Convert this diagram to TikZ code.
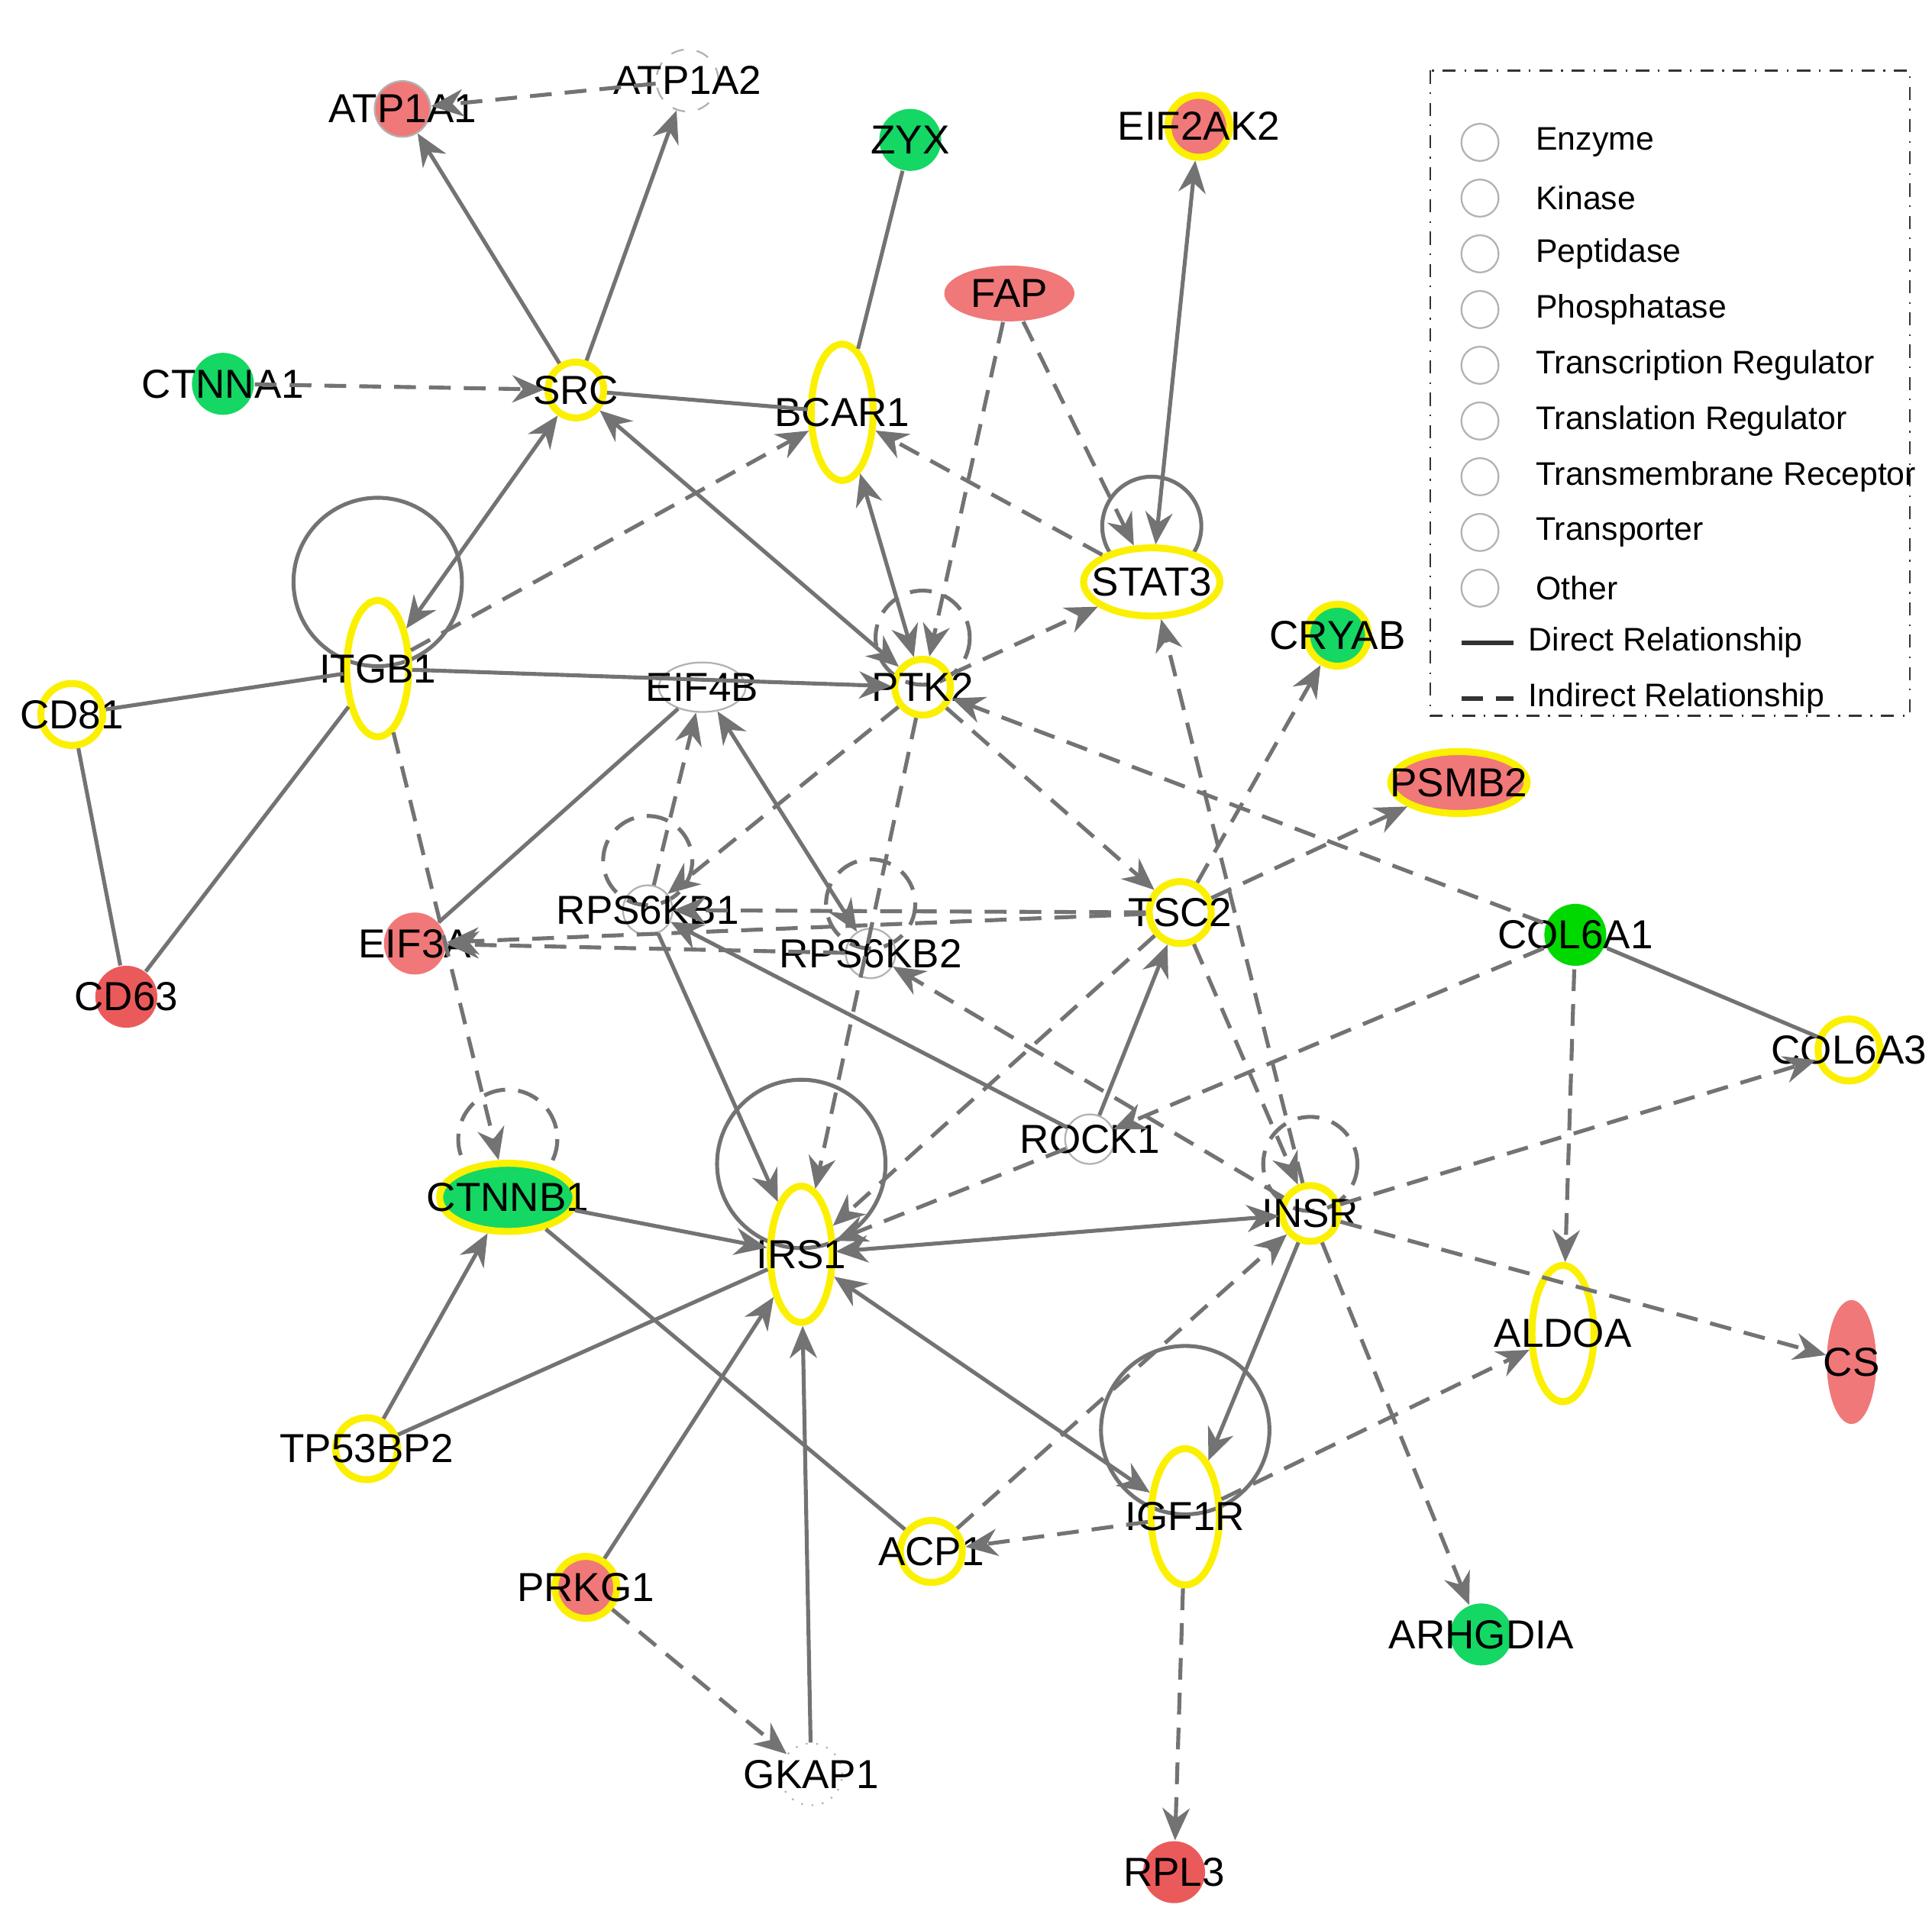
\documentclass[tikz,border=0pt]{standalone}
\usepackage{fontspec}
\setmainfont{Liberation Sans}
\usetikzlibrary{arrows.meta,shapes.geometric}
\definecolor{upred}{RGB}{240,120,120}
\definecolor{dnred}{RGB}{235,90,90}
\definecolor{dngreen}{RGB}{20,215,100}
\definecolor{ipayel}{RGB}{250,240,0}
\begin{document}
\begin{tikzpicture}[x=0.01cm,y=-0.01cm,font=\fontsize{9.3}{11}\selectfont,
  mol/.style={circle, minimum size=0.5cm, inner sep=0pt, draw=gray!60, line width=0.4pt},
  hi/.style={draw=ipayel, line width=1.6pt},
  dir/.style={gray!90!black, line width=0.9pt, -{Stealth[length=2.6mm,width=2.2mm]}},
  ind/.style={dir, dash pattern=on 5pt off 3pt},
  both/.style={{Stealth[length=2.6mm,width=2.2mm]}-{Stealth[length=2.6mm,width=2.2mm]}},
  nil/.style={-},
  loop/.style={gray!90!black, line width=0.9pt},
  legtxt/.style={anchor=west, inner sep=1pt, font=\fontsize{7.5}{9}\selectfont}]
\useasboundingbox (0,0) rectangle (1560,1543);
% self loops
\draw[loop] (305,470) circle (68);
\draw[loop] (647,940) circle (68);
\draw[loop] (957,1155) circle (68);
\draw[loop] (930,425) circle (40);
\draw[loop,dash pattern=on 5pt off 3pt] (410,920) circle (40);
\draw[loop,dash pattern=on 5pt off 3pt] (745,515) circle (38);
\draw[loop,dash pattern=on 5pt off 3pt] (523,695) circle (36);
\draw[loop,dash pattern=on 5pt off 3pt] (703,730) circle (36);
\draw[loop,dash pattern=on 5pt off 3pt] (1058,940) circle (38);
% molecules
\node[mol, fill=upred, minimum size=0.45cm] (atp1a1) at (325,88) {};
\node at (325,88) {ATP1A1};
\node[mol, dashed] (atp1a2) at (555,65) {};
\node at (555,65) {ATP1A2};
\node[mol, fill=dngreen, draw=none] (zyx) at (735,113) {};
\node at (735,113) {ZYX};
\node[mol, fill=upred, hi] (eif2ak2) at (968,102) {};
\node at (968,102) {EIF2AK2};
\node[ellipse, minimum width=1.05cm, minimum height=0.45cm, fill=upred, draw=none] (fap) at (815,237) {};
\node at (815,237) {FAP};
\node[mol, fill=dngreen, draw=none] (ctnna1) at (180,310) {};
\node at (180,310) {CTNNA1};
\node[mol, hi, minimum size=0.45cm] (src) at (465,315) {};
\node at (465,315) {SRC};
\node[ellipse, hi, minimum width=0.5cm, minimum height=1.1cm] (bcar1) at (680,333) {};
\node at (680,333) {BCAR1};
\node[ellipse, hi, fill=white, minimum width=1.1cm, minimum height=0.55cm] (stat3) at (930,470) {};
\node at (930,470) {STAT3};
\node[ellipse, hi, minimum width=0.5cm, minimum height=1.1cm] (itgb1) at (305,540) {};
\node at (305,540) {ITGB1};
\node[mol, hi] (cd81) at (58,577) {};
\node at (58,577) {CD81};
\node[ellipse, draw=gray!60, minimum width=0.7cm, minimum height=0.4cm] (eif4b) at (567,555) {};
\node at (567,555) {EIF4B};
\node[mol, hi, minimum size=0.45cm] (ptk2) at (745,555) {};
\node at (745,555) {PTK2};
\node[mol, fill=dngreen, hi] (cryab) at (1080,513) {};
\node at (1080,513) {CRYAB};
\node[ellipse, fill=upred, hi, minimum width=1.1cm, minimum height=0.5cm] (psmb2) at (1178,632) {};
\node at (1178,632) {PSMB2};
\node[mol, minimum size=0.4cm] (rps6kb1) at (523,735) {};
\node at (523,735) {RPS6KB1};
\node[mol, minimum size=0.4cm] (rps6kb2) at (703,770) {};
\node at (703,770) {RPS6KB2};
\node[mol, hi] (tsc2) at (953,737) {};
\node at (953,737) {TSC2};
\node[mol, fill=upred, draw=none] (eif3a) at (335,762) {};
\node at (335,762) {EIF3A};
\node[mol, fill=dnred, draw=none] (cd63) at (102,805) {};
\node at (102,805) {CD63};
\node[mol, fill=green!85!black, hi, draw=none] (col6a1) at (1272,755) {};
\node at (1272,755) {COL6A1};
\node[mol, hi] (col6a3) at (1493,848) {};
\node at (1493,848) {COL6A3};
\node[mol, minimum size=0.4cm] (rock1) at (880,920) {};
\node at (880,920) {ROCK1};
\node[ellipse, fill=dngreen, hi, minimum width=1.1cm, minimum height=0.55cm] (ctnnb1) at (410,967) {};
\node at (410,967) {CTNNB1};
\node[ellipse, hi, minimum width=0.5cm, minimum height=1.1cm] (irs1) at (647,1013) {};
\node at (647,1013) {IRS1};
\node[mol, hi, minimum size=0.45cm] (insr) at (1058,980) {};
\node at (1058,980) {INSR};
\node[ellipse, hi, minimum width=0.5cm, minimum height=1.1cm] (aldoa) at (1262,1077) {};
\node at (1262,1077) {ALDOA};
\node[ellipse, fill=upred, draw=none, minimum width=0.4cm, minimum height=1cm] (cs) at (1495,1100) {};
\node at (1495,1100) {CS};
\node[mol, hi] (tp53bp2) at (296,1170) {};
\node at (296,1170) {TP53BP2};
\node[ellipse, hi, minimum width=0.55cm, minimum height=1.1cm] (igf1r) at (957,1225) {};
\node at (957,1225) {IGF1R};
\node[mol, hi] (acp1) at (752,1253) {};
\node at (752,1253) {ACP1};
\node[mol, fill=upred, hi] (prkg1) at (473,1282) {};
\node at (473,1282) {PRKG1};
\node[mol, fill=dngreen, draw=none] (arhgdia) at (1196,1320) {};
\node at (1196,1320) {ARHGDIA};
\node[mol, dotted] (gkap1) at (655,1433) {};
\node at (655,1433) {GKAP1};
\node[mol, fill=dnred, draw=none] (rpl3) at (948,1512) {};
\node at (948,1512) {RPL3};
% relationships
\draw[ind] (atp1a2) -- (atp1a1);
\draw[dir] (src) -- (atp1a1);
\draw[dir] (src) -- (atp1a2);
\draw[dir,nil] (zyx) -- (bcar1);
\draw[ind] (ctnna1) -- (src);
\draw[dir,nil] (src) -- (bcar1);
\draw[dir,both] (src) -- (ptk2);
\draw[dir,both] (src) -- (itgb1);
\draw[ind] (itgb1) -- (bcar1);
\draw[ind] (stat3) -- (bcar1);
\draw[dir,both] (bcar1) -- (ptk2);
\draw[ind] (fap) -- (ptk2);
\draw[ind] (fap) -- (stat3);
\draw[dir,both] (eif2ak2) -- (stat3);
\draw[dir] (itgb1) -- (ptk2);
\draw[dir,nil] (cd81) -- (itgb1);
\draw[dir,nil] (cd81) -- (cd63);
\draw[dir,nil] (cd63) -- (itgb1);
\draw[ind] (itgb1) -- (ctnnb1);
\draw[ind] (ptk2) -- (stat3);
\draw[dir,nil] (eif4b) -- (eif3a);
\draw[ind] (rps6kb1) -- (eif4b);
\draw[dir,both] (rps6kb2) -- (eif4b);
\draw[ind] (ptk2) -- (rps6kb1);
\draw[ind] (ptk2) -- (irs1);
\draw[ind] (ptk2) -- (tsc2);
\draw[ind] (col6a1) -- (ptk2);
\draw[ind] (tsc2) -- (cryab);
\draw[ind] (tsc2) -- (psmb2);
\draw[ind] (tsc2) -- (eif3a);
\draw[ind] (tsc2) -- (rps6kb1);
\draw[ind] (rps6kb2) -- (eif3a);
\draw[dir] (rps6kb1) -- (irs1);
\draw[dir] (rock1) -- (rps6kb1);
\draw[ind] (insr) -- (rps6kb2);
\draw[dir] (rock1) -- (tsc2);
\draw[ind] (tsc2) -- (irs1);
\draw[ind] (insr) -- (stat3);
\draw[ind] (tsc2) -- (insr);
\draw[ind] (col6a1) -- (rock1);
\draw[dir,nil] (col6a1) -- (col6a3);
\draw[ind] (col6a1) -- (aldoa);
\draw[ind] (insr) -- (col6a3);
\draw[ind] (insr) -- (cs);
\draw[ind] (insr) -- (arhgdia);
\draw[dir] (insr) -- (igf1r);
\draw[dir,both] (irs1) -- (insr);
\draw[ind] (rock1) -- (irs1);
\draw[dir] (ctnnb1) -- (irs1);
\draw[dir,nil] (ctnnb1) -- (acp1);
\draw[dir] (tp53bp2) -- (ctnnb1);
\draw[dir,nil] (tp53bp2) -- (irs1);
\draw[dir] (prkg1) -- (irs1);
\draw[ind] (prkg1) -- (gkap1);
\draw[dir] (gkap1) -- (irs1);
\draw[dir,both] (igf1r) -- (irs1);
\draw[ind] (acp1) -- (insr);
\draw[ind] (igf1r) -- (acp1);
\draw[ind] (igf1r) -- (aldoa);
\draw[ind] (igf1r) -- (rpl3);
% legend
\draw[gray!40!black, dash dot] (1155,57) rectangle (1542,578);
\foreach \t [count=\i] in {Enzyme,Kinase,Peptidase,Phosphatase,Transcription Regulator,Translation Regulator,Transmembrane Receptor,Transporter,Other} {
  \node[circle, draw=gray!60, minimum size=0.3cm, inner sep=0pt] (leg\i) at (1195,70+45*\i) {};
  \node[legtxt] at (1236,70+45*\i) {\t};
}
\coordinate (dra) at (1180,519); \coordinate (drb) at (1222,519);
\draw[gray!40!black, line width=1pt] (dra) -- (drb);
\node[legtxt] at (1230,519) {Direct Relationship};
\coordinate (ida) at (1180,564); \coordinate (idb) at (1222,564);
\draw[gray!40!black, line width=1pt, dash pattern=on 5pt off 3pt] (ida) -- (idb);
\node[legtxt] at (1230,564) {Indirect Relationship};
\end{tikzpicture}
\end{document}
